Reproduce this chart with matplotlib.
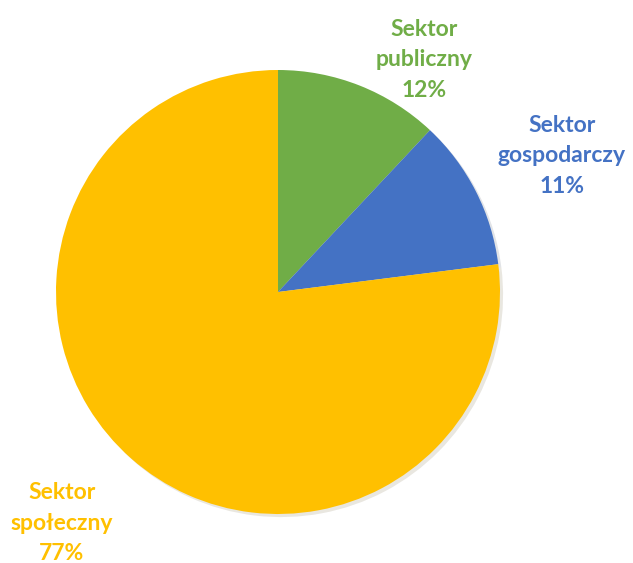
import matplotlib
matplotlib.use("Agg")
import matplotlib.pyplot as plt

sectors = ["Sektor\npubliczny", "Sektor\ngospodarczy", "Sektor\nspołeczny"]
shares = [12, 11, 77]
colors = ["#70AD47", "#4472C4", "#FFC000"]
# label block centres in pixels (x, y from top)
label_pos = [(424, 60), (562, 156), (62, 523)]

W, H = 633, 563
fig = plt.figure(figsize=(W / 100, H / 100), dpi=100)
fig.patch.set_facecolor("white")

cx, cy, r = 278, 292, 222
ax = fig.add_axes([(cx - r) / W, (H - cy - r) / H, 2 * r / W, 2 * r / H])
ax.pie(shares, colors=colors, startangle=90, counterclock=False,
       wedgeprops=dict(linewidth=0), shadow=dict(ox=0.01, oy=-0.01, alpha=0.12))
ax.set_xlim(-1, 1)
ax.set_ylim(-1, 1)
ax.set_aspect("equal")
ax.axis("off")

for name, val, col, (x, y) in zip(sectors, shares, colors, label_pos):
    fig.text(x / W, 1 - y / H, f"{name}\n{val}%", color=col, ha="center", va="center",
             fontsize=16.5, fontweight="bold", family="Lato", linespacing=1.55)

fig.savefig("out.png", dpi=100)
